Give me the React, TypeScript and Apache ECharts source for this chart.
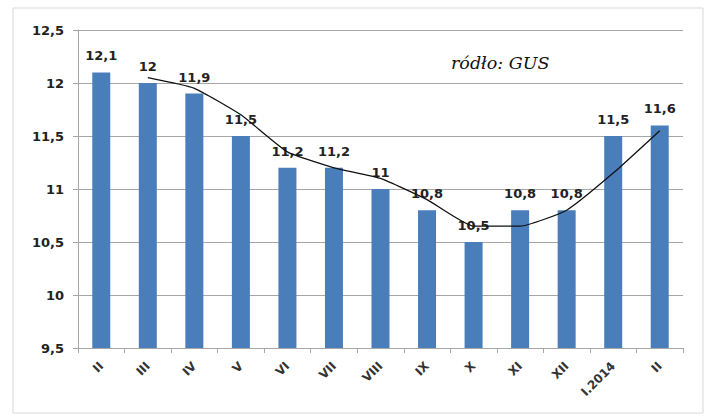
import React, { useEffect, useRef } from "react";
import * as echarts from "echarts";

const categories = ["II", "III", "IV", "V", "VI", "VII", "VIII", "IX", "X", "XI", "XII", "I.2014", "II"];
const barValues = [12.1, 12, 11.9, 11.5, 11.2, 11.2, 11, 10.8, 10.5, 10.8, 10.8, 11.5, 11.6];
const trendValues: (number | null)[] = [null, 12.05, 11.95, 11.7, 11.35, 11.2, 11.1, 10.9, 10.65, 10.65, 10.8, 11.15, 11.55];
const sourceText = "ródło: GUS";

const comma = (v: number) => String(v).replace(".", ",");

export default function App() {
  const ref = useRef<HTMLDivElement>(null);
  useEffect(() => {
    if (!ref.current) return;
    const chart = echarts.init(ref.current, null, { renderer: "svg" });
    const font = "'DejaVu Sans', sans-serif";
    chart.setOption({
      animation: false,
      backgroundColor: "#ffffff",
      grid: { left: 78, right: 25, top: 30, bottom: 69 },
      graphic: [
        {
          type: "rect",
          shape: { x: 13, y: 8, width: 690, height: 405 },
          style: { fill: "none", stroke: "#d9d9d9", lineWidth: 1 },
          silent: true,
        },
        {
          type: "text",
          x: 451,
          y: 63,
          style: {
            text: sourceText,
            font: "italic 17.5px 'DejaVu Serif', serif",
            fill: "#111",
            verticalAlign: "middle",
          },
        },
      ],
      xAxis: {
        type: "category",
        data: categories,
        boundaryGap: true,
        axisLine: { lineStyle: { color: "#a6a6a6" } },
        axisTick: { show: true, alignWithLabel: false, length: 5, lineStyle: { color: "#a6a6a6" } },
        axisLabel: {
          rotate: 45,
          interval: 0,
          color: "#333",
          fontSize: 12,
          fontWeight: "bold",
          fontFamily: font,
          margin: 16,
        },
      },
      yAxis: {
        type: "value",
        min: 9.5,
        max: 12.5,
        interval: 0.5,
        axisLine: { show: true, lineStyle: { color: "#a6a6a6" } },
        axisTick: { show: true, length: 5, lineStyle: { color: "#a6a6a6" } },
        splitLine: { lineStyle: { color: "#a6a6a6" } },
        axisLabel: {
          color: "#222",
          fontSize: 13,
          fontWeight: "bold",
          fontFamily: font,
          margin: 14,
          formatter: (v: number) => comma(v),
        },
      },
      series: [
        {
          type: "bar",
          data: barValues,
          barWidth: 18,
          itemStyle: { color: "#4a7ebb" },
          label: {
            show: true,
            position: "top",
            distance: 10,
            color: "#222",
            fontSize: 13,
            fontWeight: "bold",
            fontFamily: font,
            formatter: (p: any) => comma(p.value),
          },
          z: 2,
        },
        {
          type: "line",
          data: trendValues,
          smooth: 0.15,
          showSymbol: false,
          symbol: "none",
          connectNulls: false,
          lineStyle: { color: "#111", width: 1.3 },
          z: 3,
        },
      ],
    });
    return () => chart.dispose();
  }, []);
  return <div ref={ref} style={{ width: 708, height: 417, position: "absolute", left: 0, top: 0 }} />;
}
